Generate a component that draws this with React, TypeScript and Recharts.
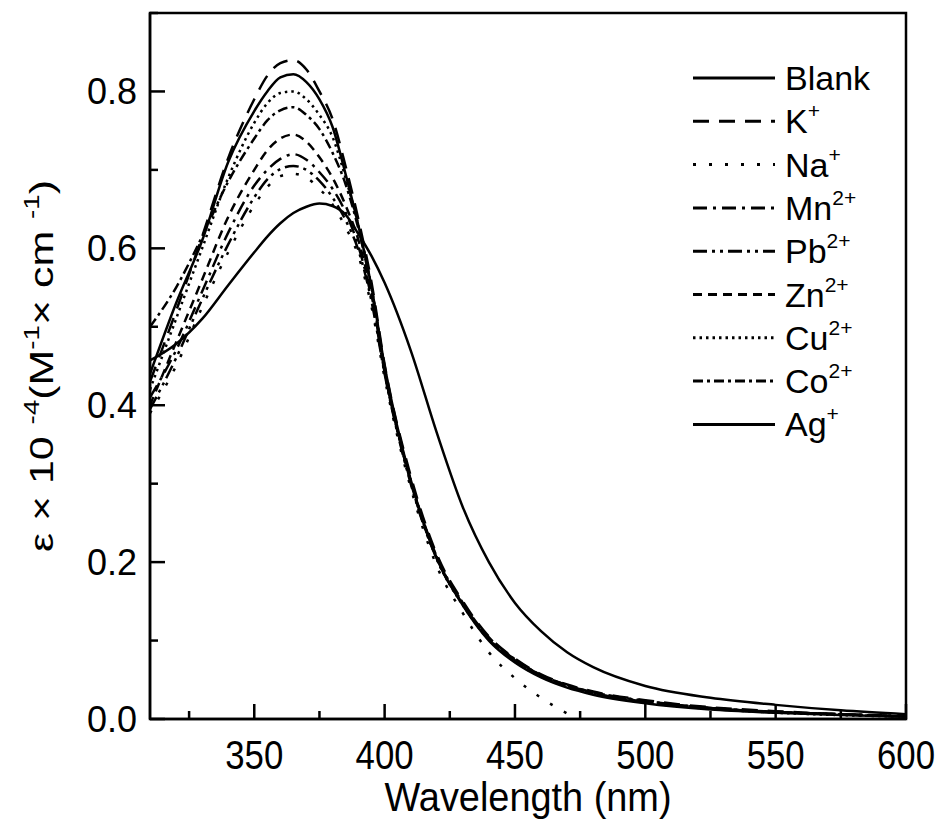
import React from 'react'
import {
  LineChart,
  Line,
  XAxis,
  YAxis,
  Legend,
  ReferenceArea,
  Label,
} from 'recharts'

// wavelength grid (nm)
const WAVELENGTHS = [310, 320, 330, 340, 350, 355, 360, 365, 370, 375, 380, 385, 390, 395, 400, 410, 420, 430, 440, 450, 460, 470, 480, 500, 525, 550, 575, 600]

const BLANK = [0.44, 0.53, 0.61, 0.71, 0.775, 0.8, 0.818, 0.822, 0.812, 0.79, 0.755, 0.695, 0.628, 0.55, 0.45, 0.305, 0.205, 0.145, 0.1, 0.072, 0.053, 0.04, 0.031, 0.02, 0.012, 0.008, 0.005, 0.003]
const K_ION = [0.43, 0.52, 0.615, 0.715, 0.79, 0.82, 0.836, 0.84, 0.828, 0.8, 0.765, 0.705, 0.636, 0.556, 0.452, 0.31, 0.21, 0.15, 0.105, 0.077, 0.057, 0.044, 0.035, 0.024, 0.015, 0.01, 0.006, 0.004]
const NA_ION = [0.39, 0.45, 0.525, 0.595, 0.655, 0.678, 0.692, 0.695, 0.69, 0.676, 0.656, 0.627, 0.59, 0.525, 0.435, 0.295, 0.195, 0.135, 0.085, 0.052, 0.027, 0.007, null, null, null, null, null, null]
const MN_ION = [0.41, 0.47, 0.545, 0.62, 0.68, 0.7, 0.714, 0.72, 0.713, 0.697, 0.676, 0.646, 0.602, 0.536, 0.442, 0.303, 0.206, 0.147, 0.103, 0.076, 0.056, 0.043, 0.034, 0.023, 0.014, 0.009, 0.006, 0.004]
const PB_ION = [0.395, 0.46, 0.535, 0.605, 0.665, 0.688, 0.701, 0.705, 0.7, 0.686, 0.665, 0.636, 0.597, 0.532, 0.44, 0.3, 0.204, 0.146, 0.102, 0.075, 0.055, 0.042, 0.033, 0.022, 0.014, 0.009, 0.006, 0.003]
const ZN_ION = [0.4, 0.48, 0.56, 0.64, 0.7, 0.725, 0.74, 0.745, 0.736, 0.716, 0.69, 0.655, 0.61, 0.54, 0.445, 0.302, 0.205, 0.146, 0.102, 0.075, 0.055, 0.042, 0.033, 0.022, 0.014, 0.009, 0.006, 0.003]
const CU_ION = [0.42, 0.51, 0.6, 0.69, 0.76, 0.785, 0.798, 0.8, 0.79, 0.77, 0.742, 0.69, 0.628, 0.55, 0.448, 0.303, 0.204, 0.145, 0.101, 0.073, 0.054, 0.041, 0.032, 0.021, 0.013, 0.008, 0.005, 0.003]
const CO_ION = [0.5, 0.55, 0.615, 0.685, 0.74, 0.763, 0.776, 0.78, 0.77, 0.752, 0.722, 0.682, 0.624, 0.547, 0.444, 0.305, 0.207, 0.148, 0.104, 0.076, 0.056, 0.043, 0.034, 0.023, 0.014, 0.009, 0.006, 0.003]
const AG_ION = [0.457, 0.478, 0.51, 0.553, 0.595, 0.615, 0.632, 0.645, 0.653, 0.657, 0.654, 0.643, 0.618, 0.59, 0.556, 0.47, 0.365, 0.27, 0.2, 0.148, 0.112, 0.085, 0.066, 0.042, 0.027, 0.018, 0.011, 0.006]

const X_TICKS = [325, 350, 375, 400, 425, 450, 475, 500, 525, 550, 575, 600]
const Y_TICKS = [0, 0.1, 0.2, 0.3, 0.4, 0.5, 0.6, 0.7, 0.8, 0.9]

// legend order, label base + superscript, dash pattern
const SERIES = [
  { key: 'blank', name: 'Blank', sup: '', dash: undefined, values: BLANK },
  { key: 'k', name: 'K', sup: '+', dash: '16 10', values: K_ION },
  { key: 'na', name: 'Na', sup: '+', dash: '3 13', values: NA_ION },
  { key: 'mn', name: 'Mn', sup: '2+', dash: '14 6 3 6', values: MN_ION },
  { key: 'pb', name: 'Pb', sup: '2+', dash: '14 5 3 5 3 5', values: PB_ION },
  { key: 'zn', name: 'Zn', sup: '2+', dash: '9 6', values: ZN_ION },
  { key: 'cu', name: 'Cu', sup: '2+', dash: '2.5 4', values: CU_ION },
  { key: 'co', name: 'Co', sup: '2+', dash: '10 4 3 4', values: CO_ION },
  { key: 'ag', name: 'Ag', sup: '+', dash: undefined, values: AG_ION },
]

const data = WAVELENGTHS.map((wl, i) => {
  const row: Record<string, number | null> = { wl }
  SERIES.forEach((s) => {
    row[s.key] = s.values[i]
  })
  return row
})

const FONT = '"Liberation Sans", Arial, sans-serif'

const XTick = (props: any) => {
  const { x, y, payload } = props
  const major = payload.value % 50 === 0
  return (
    <g>
      <line x1={x} x2={x} y1={y} y2={y - (major ? 15 : 8)} stroke="#000" strokeWidth={2.5} />
      {major && (
        <text x={x} y={y + 50} textAnchor="middle" fontSize={40} fontFamily={FONT} textLength={58} lengthAdjust="spacingAndGlyphs" fill="#000">
          {payload.value}
        </text>
      )}
    </g>
  )
}

const YTick = (props: any) => {
  const { x, y, payload } = props
  const major = Math.round(payload.value * 10) % 2 === 0
  return (
    <g>
      <line x1={x} x2={x + (major ? 15 : 8)} y1={y} y2={y} stroke="#000" strokeWidth={2.5} />
      {major && payload.value < 0.85 && (
        <text x={x - 13} y={y + 13} textAnchor="end" fontSize={36} fontFamily={FONT} fill="#000">
          {payload.value.toFixed(1)}
        </text>
      )}
    </g>
  )
}

const LegendBox = () => (
  <svg width={941} height={825} style={{ position: 'absolute', left: 0, top: 0 }}>
    {SERIES.map((s, i) => {
      const cy = 78 + i * 43.3
      return (
        <g key={s.key}>
          <line x1={693} x2={775} y1={cy} y2={cy} stroke="#000" strokeWidth={3} strokeDasharray={s.dash} />
          <text x={785} y={cy + 12} fontSize={34} fontFamily={FONT} fill="#000">
            {s.name}
            {s.sup && (
              <tspan fontSize={21} dy={-15}>
                {s.sup}
              </tspan>
            )}
          </text>
        </g>
      )
    })}
  </svg>
)

const YTitle = () => (
  <text
    x={53}
    y={552}
    transform="rotate(-90 53 552)"
    fontSize={34}
    fontFamily={FONT}
    fill="#000"
    textLength={372}
    lengthAdjust="spacingAndGlyphs"
  >
    ε × 10{'   '}
    <tspan fontSize={22} dy={-14}>-4</tspan>
    <tspan dy={14}>(M</tspan>
    <tspan fontSize={22} dy={-14}>-1</tspan>
    <tspan dy={14}>× cm </tspan>
    <tspan fontSize={22} dy={-14}>-1</tspan>
    <tspan dy={14}>)</tspan>
  </text>
)

export default function App() {
  return (
    <div style={{ position: 'absolute', left: 0, top: 0, width: 941, height: 825, background: '#fff' }}>
      <LineChart width={941} height={825} data={data} margin={{ top: 13, right: 35, bottom: 0, left: 0 }}>
        <XAxis
          dataKey="wl"
          type="number"
          domain={[310, 600]}
          ticks={X_TICKS}
          interval={0}
          tickSize={0}
          tickMargin={0}
          tick={<XTick />}
          height={106}
          axisLine={{ stroke: '#000', strokeWidth: 2.5 }}
          allowDataOverflow
        >
          <Label
            content={(p: any) => (
              <text
                x={p.viewBox.x + p.viewBox.width / 2}
                y={p.viewBox.y + 92}
                textAnchor="middle"
                fontSize={40}
                fontFamily={FONT}
                textLength={287}
                lengthAdjust="spacingAndGlyphs"
                fill="#000"
              >
                Wavelength (nm)
              </text>
            )}
          />
        </XAxis>
        <YAxis
          type="number"
          domain={[0, 0.9]}
          ticks={Y_TICKS}
          interval={0}
          tickSize={0}
          tickMargin={0}
          tick={<YTick />}
          width={150}
          axisLine={{ stroke: '#000', strokeWidth: 2.5 }}
          allowDataOverflow
        >
          <Label content={() => <YTitle />} />
        </YAxis>
        <ReferenceArea x1={310} x2={600} y1={0} y2={0.9} fill="none" stroke="#000" strokeWidth={2.5} />
        {SERIES.map((s) => (
          <Line
            key={s.key}
            type="monotone"
            dataKey={s.key}
            name={s.name}
            stroke="#000"
            strokeWidth={2.5}
            strokeDasharray={s.dash}
            dot={false}
            activeDot={false}
            connectNulls={false}
            isAnimationActive={false}
          />
        ))}
        <Legend
          layout="vertical"
          align="center"
          verticalAlign="middle"
          content={() => <LegendBox />}
          wrapperStyle={{ left: 0, top: 0, width: 941, height: 825, pointerEvents: 'none' }}
        />
      </LineChart>
    </div>
  )
}
